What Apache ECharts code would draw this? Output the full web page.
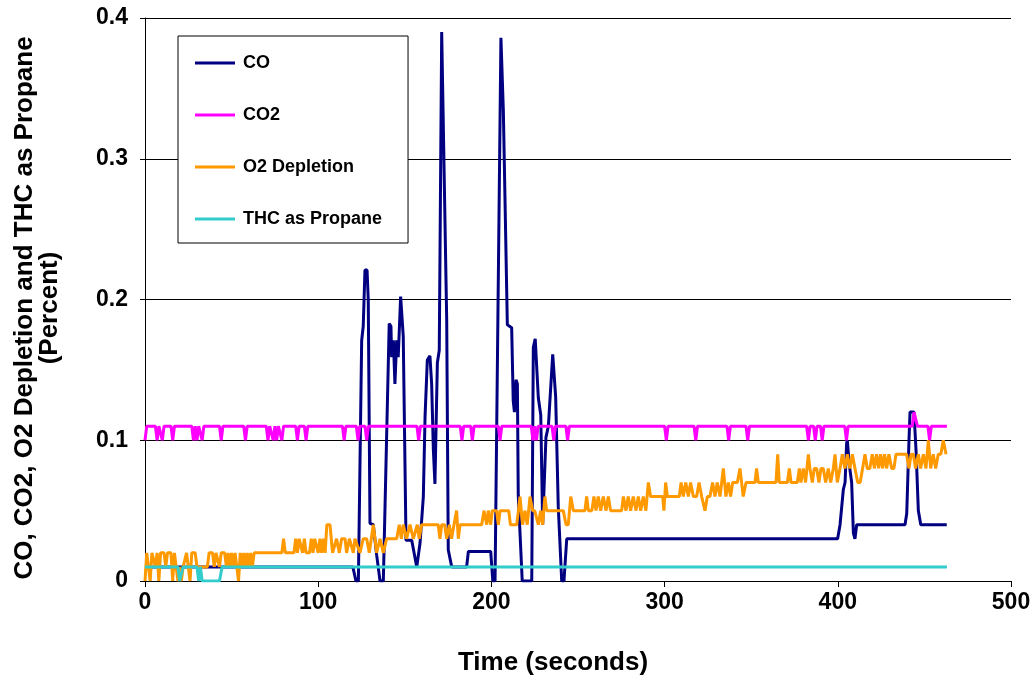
<!DOCTYPE html>
<html><head><meta charset="utf-8">
<script src="https://cdn.jsdelivr.net/npm/echarts@6/dist/echarts.min.js"></script>
<style>html,body{margin:0;padding:0;background:#fff}#c{width:1036px;height:681px}</style>
</head><body><div id="c"></div>
<script>
// ---- data (time in seconds, value in percent) ----
const seriesNames = ['CO', 'CO2', 'O2 Depletion', 'THC as Propane'];
const xTicks = [0, 100, 200, 300, 400, 500];
const yTicks = [0, 0.1, 0.2, 0.3, 0.4];

const coTime = [0,120,121.8,123.2,125.1,126,127,128.2,128.9,129.9,131.8,133.8,135.7,137.6,141,142,142.4,143.4,144.3,145.3,146.2,147.6,149.1,150.7,154,156.9,158.8,160.7,161.7,163,164.5,165.5,166.5,167.4,168.8,169.9,171.3,174.2,175.1,177.1,185.7,186.7,199.6,200.8,202.1,205.5,206.9,209.2,211.7,212.6,213.3,214.2,215,215.5,216.5,217.8,223.3,224.2,225.3,227.1,228.5,229.6,231.5,232.9,235.4,237.1,238.6,240.6,241.9,243.5,399.9,401.3,403.2,404.2,405.1,405.5,406.6,408,409,409.9,410.9,438.8,439.8,441.1,441.7,444,445.2,446.5,447.9,462.9];
const coValue = [0.01,0.01,0,0,0.171,0.181,0.221,0.221,0.2,0.041,0.04,0.018,0,0,0.183,0.181,0.159,0.171,0.14,0.171,0.159,0.202,0.174,0.029,0.029,0.01,0.027,0.06,0.117,0.157,0.16,0.14,0.093,0.069,0.155,0.164,0.39,0.185,0.022,0.01,0.01,0.021,0.021,0,0,0.386,0.334,0.182,0.18,0.128,0.12,0.143,0.14,0.061,0.061,0,0,0.166,0.172,0.13,0.118,0.04,0.102,0.11,0.161,0.131,0.053,0,0,0.03,0.03,0.04,0.065,0.07,0.098,0.1,0.083,0.07,0.034,0.03,0.04,0.04,0.048,0.1,0.12,0.12,0.092,0.05,0.04,0.04];

const co2Time = [0,1,6,7,8,9,10,11,15,16,17,27,28,29,30,31,32,33,34,43,44,45,57,58,59,70,71,72,73,74,75,76,77,78,79,80,87,88,89,92,93,94,114,115,116,122,123,124,127,128,129,157,158,159,182,183,184,188,189,190,204,205,206,223,224,225,226,227,235,236,237,243,244,245,300,301,302,317,318,319,336,337,338,347,348,349,382,383,384,386,387,388,390,391,392,404,405,406,443,444,445,446,452,453,454,463];
const co2Value = [0.10,0.11,0.11,0.10,0.11,0.11,0.10,0.11,0.11,0.10,0.11,0.11,0.10,0.11,0.10,0.11,0.11,0.10,0.11,0.11,0.10,0.11,0.11,0.10,0.11,0.11,0.10,0.11,0.11,0.10,0.11,0.10,0.11,0.11,0.10,0.11,0.11,0.10,0.11,0.11,0.10,0.11,0.11,0.10,0.11,0.11,0.10,0.11,0.11,0.10,0.11,0.11,0.10,0.11,0.11,0.10,0.11,0.11,0.10,0.11,0.11,0.10,0.11,0.11,0.10,0.11,0.10,0.11,0.11,0.10,0.11,0.11,0.10,0.11,0.11,0.10,0.11,0.11,0.10,0.11,0.11,0.10,0.11,0.11,0.10,0.11,0.11,0.10,0.11,0.11,0.10,0.11,0.11,0.10,0.11,0.11,0.10,0.11,0.11,0.12,0.12,0.11,0.11,0.10,0.11,0.11];

const o2Time = [0,1,2,3,4,5,6,7,8,9,11,12,13,15,16,17,18,19,20,21,22,24,25,26,27,29,30,32,36,37,39,40,41,42,43,44,46,47,48,49,50,51,52,53,54,55,56,57,58,59,60,61,62,63,79,80,81,86,87,88,89,90,91,92,93,95,96,97,98,99,100,101,102,103,104,105,106.8,108.3,110.6,112.2,113.5,115.5,116.4,118,120.3,121.2,124.1,126,128,129.5,131.8,132.8,133.7,135.7,137.6,139.5,145.3,146.8,148,149.1,151,153,154.9,157.2,158.3,159.7,169.3,170.3,171.3,173,174.2,175.7,177,178.4,179.9,180.9,181.9,183.8,194.4,195.7,197.3,198.2,199.6,200.5,203,204,205,206,210,211,212.3,214.6,215.6,216.5,218,219.4,220.7,222.3,223.8,225,227.1,228.4,229.6,230.9,231.9,241.5,243.1,244.4,245.8,247.3,254,255,256,258,259.2,260.4,261.7,263.1,264.6,266.2,267.5,268.8,275.2,276.2,277.7,279,280.4,281.9,283.5,284.8,286.2,287.7,289.2,290.6,291.9,298.9,299.6,300.6,301.6,308.5,309.5,310.8,312.2,313.7,315,316.6,318.5,319.9,321.4,322.3,323.3,324.7,326.2,327.7,329.1,330.4,332,333.9,335.4,336.8,338.1,339.3,342,343.5,345.4,347,352.2,353.1,354.1,364.3,365.3,366.2,370.9,372,373,376.6,377.8,378.7,380.1,381.4,383,383.9,385.3,386.4,387.8,389.1,390.3,391.6,393,394.5,395.9,397.4,398.4,399.7,401.3,402.6,404.1,405.5,407,408.4,409.9,411.5,412.9,414.3,415.7,417,418.5,419.9,421.1,422.4,423.6,424.7,425.9,427,428.2,429.5,431.1,432.4,433.6,439.7,441.1,442.3,443.6,444.9,446.5,447.8,449.4,450.9,452.3,453.6,455.1,456.5,458,459.5,460.9,462.5];
const o2Value = [0,0.02,0.02,0,0.02,0.02,0.01,0.02,0,0.02,0.02,0.01,0.02,0.02,0,0.02,0.02,0,0.01,0,0.01,0.02,0.02,0,0.02,0.02,0.01,0.01,0.01,0.02,0.02,0.01,0.02,0.02,0.01,0.02,0.02,0.01,0.02,0.01,0.02,0.01,0.02,0.01,0,0.02,0.01,0.02,0.01,0.02,0.01,0.02,0.01,0.02,0.02,0.03,0.02,0.02,0.03,0.02,0.03,0.03,0.02,0.03,0.02,0.02,0.03,0.02,0.03,0.03,0.02,0.03,0.02,0.03,0.02,0.04,0.04,0.02,0.03,0.02,0.03,0.03,0.02,0.03,0.02,0.03,0.02,0.03,0.03,0.02,0.04,0.03,0.02,0.03,0.02,0.03,0.03,0.04,0.03,0.04,0.03,0.04,0.03,0.04,0.03,0.04,0.04,0.03,0.04,0.04,0.03,0.04,0.03,0.04,0.05,0.03,0.04,0.04,0.04,0.05,0.04,0.05,0.04,0.05,0.05,0.04,0.05,0.05,0.05,0.04,0.04,0.04,0.05,0.06,0.04,0.05,0.04,0.06,0.05,0.05,0.04,0.05,0.04,0.06,0.05,0.05,0.04,0.04,0.06,0.05,0.05,0.06,0.05,0.05,0.06,0.05,0.06,0.05,0.06,0.05,0.06,0.05,0.05,0.06,0.05,0.06,0.05,0.06,0.05,0.06,0.05,0.06,0.05,0.07,0.06,0.06,0.05,0.07,0.06,0.06,0.07,0.06,0.07,0.06,0.07,0.06,0.06,0.07,0.06,0.06,0.05,0.06,0.06,0.07,0.06,0.07,0.06,0.08,0.06,0.07,0.06,0.07,0.07,0.08,0.06,0.07,0.07,0.08,0.07,0.07,0.09,0.07,0.07,0.08,0.07,0.07,0.08,0.07,0.08,0.07,0.09,0.08,0.07,0.08,0.08,0.07,0.08,0.08,0.07,0.08,0.07,0.08,0.09,0.07,0.08,0.09,0.08,0.09,0.08,0.09,0.08,0.07,0.07,0.08,0.09,0.08,0.08,0.09,0.08,0.09,0.08,0.09,0.08,0.09,0.08,0.09,0.08,0.08,0.09,0.09,0.08,0.09,0.09,0.08,0.09,0.08,0.09,0.08,0.10,0.08,0.09,0.08,0.09,0.09,0.10,0.09];

const thcTime = [0,19,20,21,22,30,31,32,33,43,44.5,463];
const thcValue = [0.01,0.01,0,0,0.01,0.01,0,0.01,0,0,0.01,0.01];

// ---- build ----
const zip = (t, v) => t.map((x, i) => [x, v[i]]);
const colors = ['#000080', '#FF00FF', '#FF9900', '#33CCCC'];
const lists = [zip(coTime, coValue), zip(co2Time, co2Value), zip(o2Time, o2Value), zip(thcTime, thcValue)];
const FONT = 'Liberation Sans, Arial, sans-serif';

const chart = echarts.init(document.getElementById('c'), null, {renderer: 'canvas'});
chart.setOption({
  animation: false,
  backgroundColor: '#fff',
  grid: {left: 145, right: 25, top: 18, bottom: 100, containLabel: false},
  xAxis: {
    type: 'value', min: xTicks[0], max: xTicks[xTicks.length - 1], interval: 100,
    axisLine: {show: true, lineStyle: {color: '#000', width: 1}},
    axisTick: {show: true, inside: false, length: 6, lineStyle: {color: '#000'}},
    axisLabel: {color: '#000', fontFamily: FONT, fontWeight: 'bold', fontSize: 23, margin: 10},
    splitLine: {show: false}
  },
  yAxis: {
    type: 'value', min: yTicks[0], max: yTicks[yTicks.length - 1], interval: 0.1,
    axisLine: {show: true, lineStyle: {color: '#000', width: 1}},
    axisTick: {show: true, inside: false, length: 5, lineStyle: {color: '#000'}},
    axisLabel: {color: '#000', fontFamily: FONT, fontWeight: 'bold', fontSize: 23, margin: 17},
    splitLine: {show: true, lineStyle: {color: '#000', width: 1}}
  },
  legend: {
    orient: 'vertical', left: 178, top: 36,
    data: seriesNames,
    icon: 'rect', itemWidth: 40, itemHeight: 3, itemGap: 34,
    padding: [18, 26, 15, 17],
    borderColor: '#000', borderWidth: 1, backgroundColor: '#fff', borderRadius: 0,
    textStyle: {color: '#000', fontFamily: FONT, fontWeight: 'bold', fontSize: 18, padding: [0, 0, 0, 3]}
  },
  graphic: [
    {type: 'text', x: 37, y: 308, rotation: Math.PI / 2,
     style: {text: 'CO, CO2, O2 Depletion and THC as Propane\n(Percent)', fontFamily: FONT, fontWeight: 'bold', fontSize: 26, lineHeight: 25, align: 'center', verticalAlign: 'middle', fill: '#000'}},
    {type: 'text', x: 553, y: 663,
     style: {text: 'Time (seconds)', fontFamily: FONT, fontWeight: 'bold', fontSize: 26, align: 'center', verticalAlign: 'middle', fill: '#000'}}
  ],
  series: seriesNames.map((n, i) => ({
    name: n, type: 'line', data: lists[i], showSymbol: false, symbol: 'none',
    lineStyle: {color: colors[i], width: 3}, itemStyle: {color: colors[i]},
    emphasis: {disabled: true}
  }))
});
</script></body></html>
